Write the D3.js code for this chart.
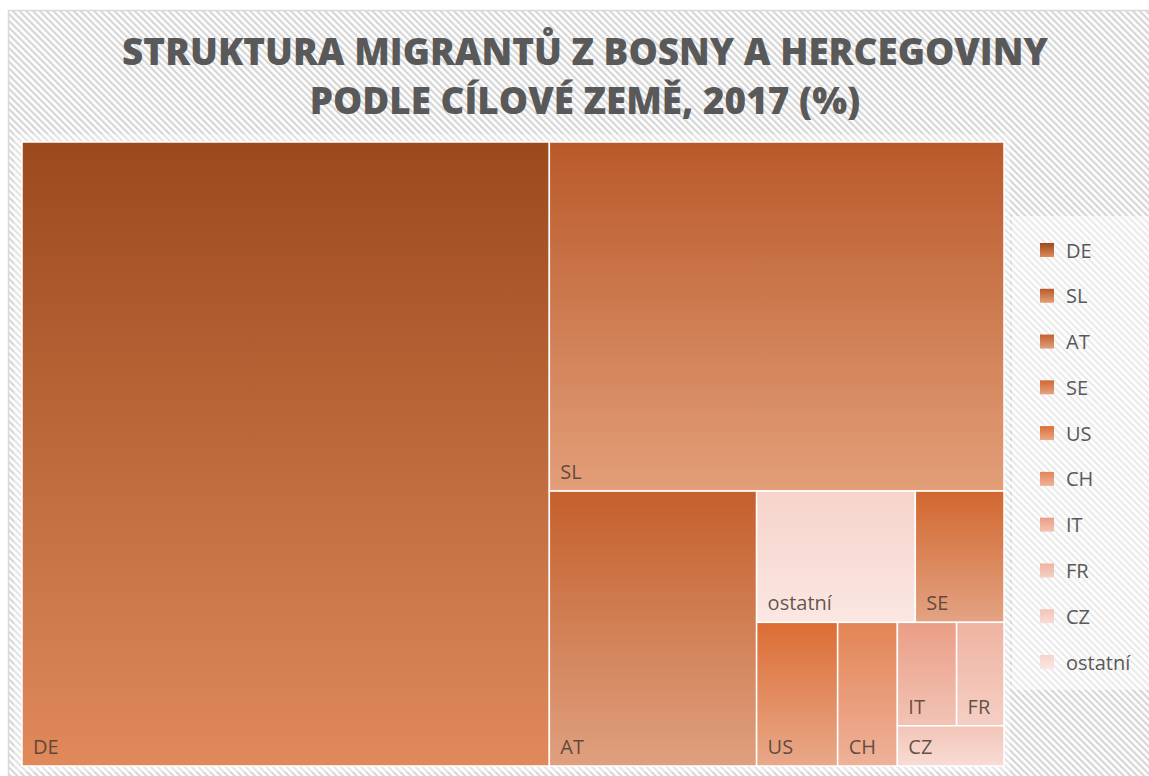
<!DOCTYPE html>
<meta charset="utf-8">
<style>
    body { margin: 0; background: #fff; }
    svg { display: block; }
    .title { font-family: "Open Sans", sans-serif; font-weight: 800; fill: #595959; }
    .cell-label, .legend text { font-family: "Open Sans", "Noto Sans", sans-serif; font-size: 20px; fill: #595959; }
    .cell-label { fill: #4a3a33; fill-opacity: 0.85; }
</style>
<svg width="1149" height="776"></svg>
<script src="https://cdn.jsdelivr.net/npm/d3@7"></script>
<script>

    // data (share of migrants, %)
    var countries = ["DE", "SL", "AT", "SE", "US", "CH", "IT", "FR", "CZ", "ostatní"];
    var shares = [53.7, 25.9, 9.3, 1.9, 1.9, 1.4, 1.0, 0.8, 0.7, 3.4];
    var titleLines = ["STRUKTURA MIGRANTŮ Z BOSNY A HERCEGOVINY", "PODLE CÍLOVÉ ZEMĚ, 2017 (%)"];

    // number of cells per strip, as the spreadsheet tiled them
    var stripSizes = [1, 1, 1, 2, 1, 1, 2, 1];

    // gradient colours, top -> bottom, one pair per country (legend order)
    var topColors = ["#9c491d", "#b9592a", "#c4602c", "#d2672f", "#dc6d33", "#e48456", "#ea9e86", "#efb3a1", "#f2c4b7", "#f6d3cb"];
    var bottomColors = ["#e08a5c", "#e39f79", "#dfa07f", "#e3a383", "#e9a98a", "#eeb29a", "#f2c3b5", "#f5cfc4", "#f8dcd5", "#fbe7e2"];

    var svg = d3.select("svg"),
        width = +svg.attr("width"),
        height = +svg.attr("height");

    var defs = svg.append("defs");

    var hatch = defs.append("pattern")
        .attr("id", "hatch")
        .attr("patternUnits", "userSpaceOnUse")
        .attr("width", 4.8)
        .attr("height", 4.8)
        .attr("patternTransform", "rotate(-45)");
    hatch.append("rect").attr("width", 4.8).attr("height", 4.8).attr("fill", "#fff");
    hatch.append("line")
        .attr("x1", 1.2).attr("y1", 0).attr("x2", 1.2).attr("y2", 4.8)
        .attr("stroke", "#d2d2d2").attr("stroke-width", 2);

    countries.forEach(function(c, i) {
        var g = defs.append("linearGradient")
            .attr("id", "grad" + i)
            .attr("x1", 0).attr("y1", 0).attr("x2", 0).attr("y2", 1);
        g.append("stop").attr("offset", "0%").attr("stop-color", topColors[i]);
        g.append("stop").attr("offset", "100%").attr("stop-color", bottomColors[i]);
    });

    // chart area
    svg.append("rect")
        .attr("x", 8.5).attr("y", 10.5)
        .attr("width", width + 20).attr("height", height + 20)
        .attr("fill", "url(#hatch)")
        .attr("stroke", "#d9d9d9")
        .attr("stroke-width", 1.5);

    // plot area, slightly washed
    svg.append("rect")
        .attr("x", 14).attr("y", 134)
        .attr("width", 996).attr("height", 638)
        .attr("fill", "#fff").attr("opacity", 0.35);

    // title
    var title = svg.append("text")
        .attr("class", "title")
        .attr("text-anchor", "middle")
        .style("font-size", "38px");
    title.selectAll("tspan")
        .data(titleLines)
        .enter().append("tspan")
        .attr("x", 585)
        .attr("y", function(d, i) { return 65 + i * 49; })
        .text(function(d) { return d; });
    // fit the first line to the width seen in the picture
    var w0 = title.select("tspan").node().getComputedTextLength();
    title.style("font-size", (38 * 926 / w0) + "px");

    // treemap
    var x0 = 22, y0 = 142, tmW = 982, tmH = 624;

    function stripTile(parent, x0, y0, x1, y1) {
        var nodes = parent.children, value = parent.value, i = 0;
        stripSizes.forEach(function(k) {
            var row = { children: nodes.slice(i, i + k) };
            row.value = d3.sum(row.children, function(d) { return d.value; });
            var dx = x1 - x0, dy = y1 - y0;
            if (dx < dy) {
                var yy = y0 + dy * row.value / value;
                d3.treemapDice(row, x0, y0, x1, yy);
                y0 = yy;
            } else {
                var xx = x0 + dx * row.value / value;
                d3.treemapSlice(row, x0, y0, xx, y1);
                x0 = xx;
            }
            value -= row.value;
            i += k;
        });
    }

    var root = d3.hierarchy({ children: countries.map(function(c, i) { return { name: c, idx: i, value: shares[i] }; }) })
        .sum(function(d) { return d.value || 0; })
        .sort(function(a, b) { return b.value - a.value; });

    d3.treemap()
        .size([tmW, tmH])
        .tile(stripTile)(root);

    var tm = svg.append("g").attr("transform", "translate(" + x0 + "," + y0 + ")");

    var cell = tm.selectAll(".cell")
        .data(root.leaves())
        .enter().append("g")
        .attr("class", "cell");

    cell.append("rect")
        .attr("x", function(d) { return d.x0; })
        .attr("y", function(d) { return d.y0; })
        .attr("width", function(d) { return d.x1 - d.x0; })
        .attr("height", function(d) { return d.y1 - d.y0; })
        .attr("fill", function(d) { return "url(#grad" + d.data.idx + ")"; })
        .attr("stroke", "#fff")
        .attr("stroke-width", 1.5);

    cell.append("text")
        .attr("class", "cell-label")
        .attr("x", function(d) { return d.x0 + 11; })
        .attr("y", function(d) { return d.y1 - 12; })
        .text(function(d) { return d.data.name; });

    // legend
    svg.append("rect")
        .attr("x", 1012).attr("y", 216)
        .attr("width", 140).attr("height", 474)
        .attr("fill", "#fff").attr("opacity", 0.5);

    var ly = d3.scalePoint()
        .domain(countries)
        .range([250, 662]);

    var item = svg.append("g").attr("class", "legend")
        .selectAll("g")
        .data(countries)
        .enter().append("g")
        .attr("transform", function(d) { return "translate(1040," + ly(d) + ")"; });

    item.append("rect")
        .attr("x", 0).attr("y", -7)
        .attr("width", 14).attr("height", 14)
        .attr("fill", function(d, i) { return "url(#grad" + i + ")"; });

    item.append("text")
        .attr("x", 26)
        .attr("y", 7.5)
        .text(function(d) { return d; });

</script>
